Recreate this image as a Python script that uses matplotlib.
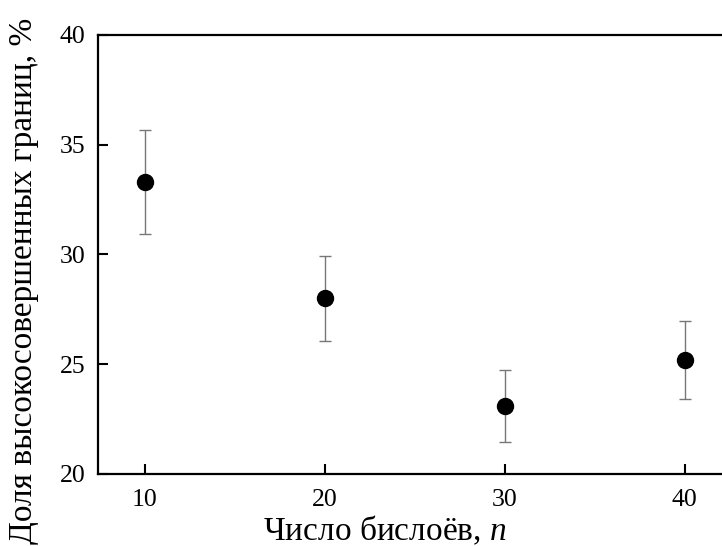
import matplotlib
matplotlib.use("Agg")
import matplotlib.pyplot as plt

# Fraction of highly perfect boundaries vs number of bilayers
n_bilayers = [10, 20, 30, 40]
fraction = [33.3, 28.0, 23.1, 25.2]
err_low = [2.35, 1.95, 1.65, 1.8]
err_high = [2.35, 1.95, 1.65, 1.75]

plt.rcParams['font.family'] = ['Liberation Serif', 'DejaVu Serif']
plt.rcParams['mathtext.fontset'] = 'custom'
plt.rcParams['mathtext.it'] = 'Liberation Serif:italic'
plt.rcParams['mathtext.rm'] = 'Liberation Serif'

fig = plt.figure(figsize=(7.22, 5.46), dpi=100)
ax = fig.add_axes([0.1357, 0.1319, 0.8873, 0.804])

ax.errorbar(n_bilayers, fraction, yerr=[err_low, err_high], fmt='o',
            color='black', markersize=11.5, ecolor='#777777',
            elinewidth=1.0, capsize=4, capthick=1.0, zorder=3)

ax.set_xlim(7.4, 43)
ax.set_ylim(20, 40)
ax.set_xticks([10, 20, 30, 40])
ax.set_yticks([20, 25, 30, 35, 40])

ax.tick_params(direction='in', length=7, width=1.5, labelsize=18.5)
ax.tick_params(axis='x', pad=11)
ax.tick_params(axis='y', pad=9)
for s in ax.spines.values():
    s.set_linewidth(1.6)

ax.set_xlabel('Число бислоёв, $n$', fontsize=24)
ax.set_ylabel('Доля высокосовершенных границ, %', fontsize=24)
ax.xaxis.set_label_coords(0.448, -0.09)
ax.yaxis.set_label_coords(-0.092, 0.44)

fig.savefig('out.png', dpi=100)
